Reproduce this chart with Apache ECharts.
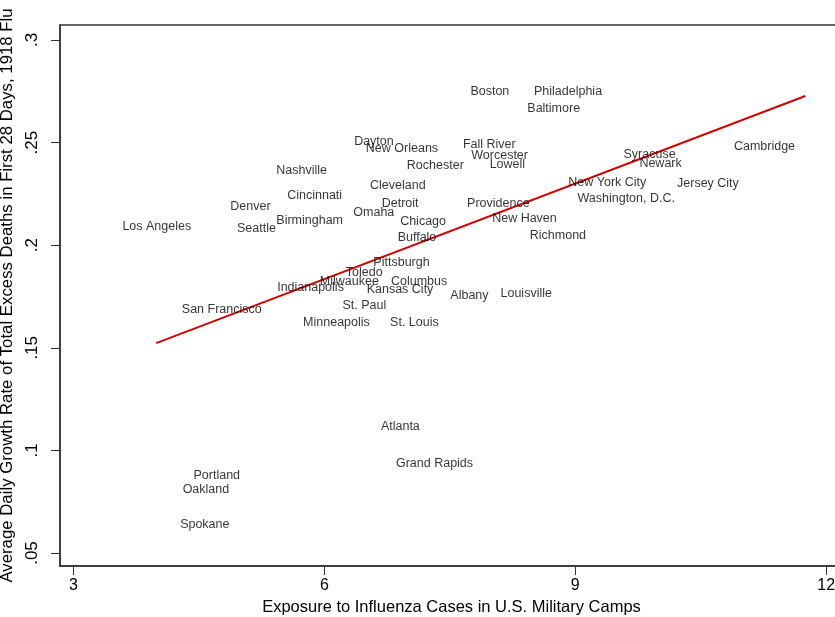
<!DOCTYPE html>
<html>
<head>
<meta charset="utf-8">
<script src="https://cdn.jsdelivr.net/npm/echarts@6/dist/echarts.min.js"></script>
<style>
  html, body { margin: 0; padding: 0; background: #fff; }
  #chart { width: 835px; height: 617px; }
</style>
</head>
<body>
<div id="chart"></div>
<script>
// city labels and their positions (exposure, growth rate)
const cities = [
  'Los Angeles', 'Denver', 'Seattle', 'Nashville', 'Cincinnati', 'Birmingham', 'Dayton', 'Omaha',
  'New Orleans', 'Boston', 'Philadelphia', 'Baltimore', 'Fall River', 'Worcester', 'Lowell', 'Rochester',
  'Cleveland', 'Detroit', 'Chicago', 'Buffalo', 'Providence', 'New Haven', 'Richmond',
  'Cambridge', 'Syracuse', 'Newark', 'New York City', 'Jersey City', 'Washington, D.C.',
  'San Francisco', 'Pittsburgh', 'Toledo', 'Milwaukee', 'Columbus', 'Indianapolis', 'Kansas City',
  'St. Paul', 'Minneapolis', 'St. Louis', 'Albany', 'Louisville',
  'Atlanta', 'Grand Rapids', 'Portland', 'Oakland', 'Spokane'
]
const exposure = [
  3.58, 4.87, 4.95, 5.42, 5.55, 5.42, 6.35, 6.34,
  6.49, 7.74, 8.50, 8.42, 7.65, 7.75, 7.97, 6.98,
  6.54, 6.68, 6.90, 6.87, 7.70, 8.00, 8.45,
  10.89, 9.57, 9.76, 8.91, 10.21, 9.02,
  4.29, 6.58, 6.25, 5.94, 6.79, 5.43, 6.50,
  6.21, 5.74, 6.78, 7.50, 8.10,
  6.67, 6.85, 4.43, 4.30, 4.27
]
const growth = [
  0.2090, 0.2188, 0.2079, 0.2362, 0.2241, 0.2119, 0.2503, 0.2158,
  0.2469, 0.2751, 0.2748, 0.2667, 0.2492, 0.2435, 0.2394, 0.2387,
  0.2293, 0.2201, 0.2115, 0.2038, 0.2201, 0.2131, 0.2045,
  0.2480, 0.2443, 0.2396, 0.2306, 0.2302, 0.2225,
  0.1684, 0.1915, 0.1866, 0.1822, 0.1822, 0.1793, 0.1785,
  0.1704, 0.1624, 0.1624, 0.1753, 0.1766,
  0.1116, 0.0937, 0.0877, 0.0807, 0.0640
]

// fitted line end points
const fitX = [3.99, 11.75]
const fitY = [0.1523, 0.2727]

const xTicks = [3, 6, 9, 12]
const yTicks = [0.05, 0.1, 0.15, 0.2, 0.25, 0.3]

const font = 'Liberation Sans, Arial, sans-serif'
const ink = '#333'

const chart = echarts.init(document.getElementById('chart'))

chart.setOption({
  animation: false,
  grid: {
    left: 60,
    top: 25,
    right: -8,
    bottom: 51,
    outerBoundsMode: 'none',
    containLabel: false,
    show: true,
    borderColor: ink,
    borderWidth: 1.5
  },
  xAxis: {
    type: 'value',
    min: 2.84,
    max: 12.2,
    name: 'Exposure to Influenza Cases in U.S. Military Camps',
    nameLocation: 'middle',
    nameGap: 28,
    nameTextStyle: { fontFamily: font, fontSize: 16.5, color: '#000' },
    splitLine: { show: false },
    axisLine: { onZero: false, lineStyle: { color: ink, width: 1.5 } },
    axisTick: { customValues: xTicks, length: 9, lineStyle: { color: ink } },
    axisLabel: {
      customValues: xTicks,
      margin: 12,
      fontFamily: font,
      fontSize: 16,
      color: '#000'
    }
  },
  yAxis: {
    type: 'value',
    min: 0.04366,
    max: 0.3073,
    name: 'Average Daily Growth Rate of Total Excess Deaths in First 28 Days, 1918 Flu',
    nameLocation: 'middle',
    nameGap: 36,
    nameTextStyle: { fontFamily: font, fontSize: 16.8, color: '#000' },
    splitLine: { show: false },
    axisLine: { onZero: false, lineStyle: { color: ink, width: 1.5 } },
    axisTick: { customValues: yTicks, length: 9, lineStyle: { color: ink } },
    axisLabel: {
      customValues: yTicks,
      rotate: 90,
      margin: 19,
      fontFamily: font,
      fontSize: 17,
      color: '#000',
      formatter: v => String(+v.toFixed(2)).replace(/^0/, '')
    }
  },
  series: [{
    type: 'scatter',
    symbol: 'circle',
    symbolSize: 1,
    itemStyle: { color: 'rgba(0,0,0,0)' },
    data: exposure.map((x, i) => ({ name: cities[i], value: [x, growth[i]] })),
    label: {
      show: true,
      position: 'right',
      distance: 0,
      formatter: '{b}',
      fontFamily: font,
      fontSize: 12.5,
      color: '#000'
    },
    emphasis: { disabled: true },
    z: 3
  }, {
    type: 'line',
    data: fitX.map((x, i) => [x, fitY[i]]),
    symbol: 'none',
    lineStyle: { color: '#d00000', width: 2 },
    z: 2
  }]
})
</script>
</body>
</html>
